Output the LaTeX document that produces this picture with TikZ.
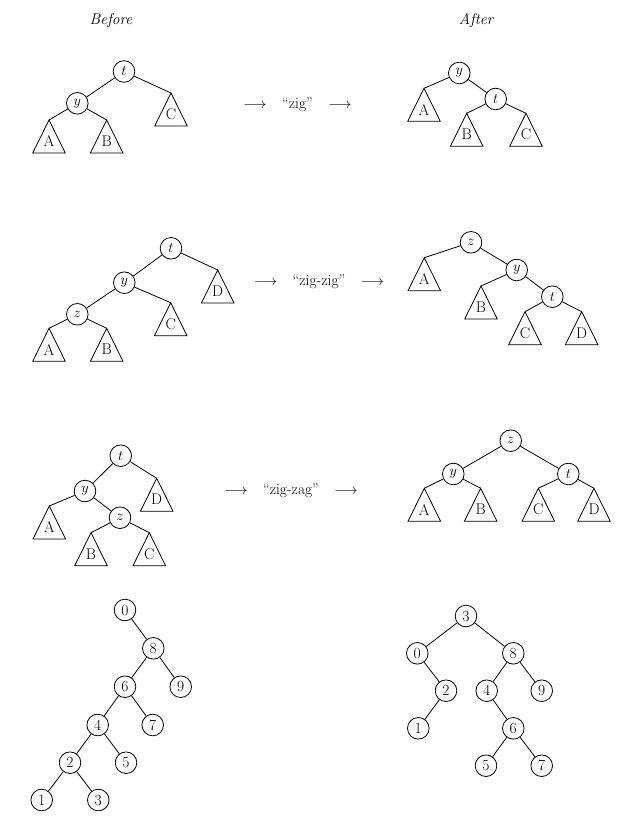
\documentclass[tikz,border=0pt]{standalone}
\usepackage{tikz}
% subtree triangle: name, apex, label
\newcommand{\subtri}[3]{%
  \coordinate (#1) at #2;
  \draw[tri] (#1) -- ++(-16.3,33) -- ++(32.6,0) -- cycle;
  \path (#1) ++(0,21.3) node (#1-lab) {#3};
}
\begin{document}
\begin{tikzpicture}[x=1pt,y=-1pt,
  every node/.style={font=\fontsize{15.5}{18}\selectfont},
  vtx/.style={draw,circle,minimum size=21.6pt,inner sep=0pt,line width=0.8pt},
  link/.style={line width=0.8pt},
  tri/.style={line width=0.8pt,line join=miter}]
\useasboundingbox (0,0) rectangle (637,825);

% column headings
\node (hb) at (111,20.5) {\itshape Before};
\node (ha) at (476,20.5) {\itshape After};

% ---- zig ----
\node[vtx] (a-t) at (124,71.5) {$t$};
\node[vtx] (a-y) at (77.3,103.3) {$y$};
\subtri{a-C}{(171,93)}{C}
\subtri{a-A}{(49,120)}{A}
\subtri{a-B}{(106.7,120)}{B}
\draw[link] (a-t) -- (a-y);
\draw[link] (a-t) -- (a-C);
\draw[link] (a-y) -- (a-A);
\draw[link] (a-y) -- (a-B);

\node (a-op) at (297.5,105) {$\longrightarrow$\quad``zig''\quad$\longrightarrow$};

\node[vtx] (b-y) at (459.3,73) {$y$};
\node[vtx] (b-t) at (495.7,99) {$t$};
\subtri{b-A}{(424,88.3)}{A}
\subtri{b-B}{(466.7,113.3)}{B}
\subtri{b-C}{(526,113.3)}{C}
\draw[link] (b-y) -- (b-A);
\draw[link] (b-y) -- (b-t);
\draw[link] (b-t) -- (b-B);
\draw[link] (b-t) -- (b-C);

% ---- zig-zig ----
\node[vtx] (c-t) at (171,248.3) {$t$};
\node[vtx] (c-y) at (124.3,282.7) {$y$};
\node[vtx] (c-z) at (77.3,314.3) {$z$};
\subtri{c-D}{(217.7,270)}{D}
\subtri{c-C}{(170.7,302.7)}{C}
\subtri{c-A}{(49,328.3)}{A}
\subtri{c-B}{(106.7,328.3)}{B}
\draw[link] (c-t) -- (c-y);
\draw[link] (c-t) -- (c-D);
\draw[link] (c-y) -- (c-z);
\draw[link] (c-y) -- (c-C);
\draw[link] (c-z) -- (c-A);
\draw[link] (c-z) -- (c-B);

\node (c-op) at (319,281.7) {$\longrightarrow$\quad``zig-zig''\quad$\longrightarrow$};

\node[vtx] (d-z) at (471,242.3) {$z$};
\node[vtx] (d-y) at (516.7,270) {$y$};
\node[vtx] (d-t) at (552.3,296.7) {$t$};
\subtri{d-A}{(424.3,257.7)}{A}
\subtri{d-B}{(481,286)}{B}
\subtri{d-C}{(525,311.7)}{C}
\subtri{d-D}{(581.7,311.7)}{D}
\draw[link] (d-z) -- (d-A);
\draw[link] (d-z) -- (d-y);
\draw[link] (d-y) -- (d-B);
\draw[link] (d-y) -- (d-t);
\draw[link] (d-t) -- (d-C);
\draw[link] (d-t) -- (d-D);

% ---- zig-zag ----
\node[vtx] (e-t) at (120.7,455.7) {$t$};
\node[vtx] (e-y) at (85,491) {$y$};
\node[vtx] (e-z) at (120,517.7) {$z$};
\subtri{e-D}{(156.7,478.3)}{D}
\subtri{e-A}{(49.3,506)}{A}
\subtri{e-B}{(91,532.7)}{B}
\subtri{e-C}{(149.3,532.7)}{C}
\draw[link] (e-t) -- (e-y);
\draw[link] (e-t) -- (e-D);
\draw[link] (e-y) -- (e-A);
\draw[link] (e-y) -- (e-z);
\draw[link] (e-z) -- (e-B);
\draw[link] (e-z) -- (e-C);

\node (e-op) at (291,491) {$\longrightarrow$\quad``zig-zag''\quad$\longrightarrow$};

\node[vtx] (f-z) at (510.7,440.7) {$z$};
\node[vtx] (f-y) at (453.3,474) {$y$};
\node[vtx] (f-t) at (568.3,474) {$t$};
\subtri{f-A}{(424.3,488.3)}{A}
\subtri{f-B}{(480.7,488.3)}{B}
\subtri{f-C}{(538.3,488.3)}{C}
\subtri{f-D}{(594,488.3)}{D}
\draw[link] (f-z) -- (f-y);
\draw[link] (f-z) -- (f-t);
\draw[link] (f-y) -- (f-A);
\draw[link] (f-y) -- (f-B);
\draw[link] (f-t) -- (f-C);
\draw[link] (f-t) -- (f-D);

% ---- numbered example, before ----
\node[vtx] (g0) at (125,610) {0};
\node[vtx] (g8) at (153.3,648.3) {8};
\node[vtx] (g6) at (125,686.7) {6};
\node[vtx] (g9) at (180.7,686.7) {9};
\node[vtx] (g4) at (97.7,725) {4};
\node[vtx] (g7) at (152.7,725) {7};
\node[vtx] (g2) at (70,762.7) {2};
\node[vtx] (g5) at (126,762.7) {5};
\node[vtx] (g1) at (41.7,800) {1};
\node[vtx] (g3) at (98.3,800) {3};
\draw[link] (g0) -- (g8);
\draw[link] (g8) -- (g6);
\draw[link] (g8) -- (g9);
\draw[link] (g6) -- (g4);
\draw[link] (g6) -- (g7);
\draw[link] (g4) -- (g2);
\draw[link] (g4) -- (g5);
\draw[link] (g2) -- (g1);
\draw[link] (g2) -- (g3);

% ---- numbered example, after ----
\node[vtx] (h3) at (466,616) {3};
\node[vtx] (h0) at (417.3,653.3) {0};
\node[vtx] (h8) at (513.3,653.3) {8};
\node[vtx] (h2) at (446,690.7) {2};
\node[vtx] (h4) at (486.7,690.7) {4};
\node[vtx] (h9) at (541.7,690.7) {9};
\node[vtx] (h1) at (418.3,728.3) {1};
\node[vtx] (h6) at (513.3,728.3) {6};
\node[vtx] (h5) at (486,765.7) {5};
\node[vtx] (h7) at (541.7,765.7) {7};
\draw[link] (h3) -- (h0);
\draw[link] (h3) -- (h8);
\draw[link] (h0) -- (h2);
\draw[link] (h2) -- (h1);
\draw[link] (h8) -- (h4);
\draw[link] (h8) -- (h9);
\draw[link] (h4) -- (h6);
\draw[link] (h6) -- (h5);
\draw[link] (h6) -- (h7);
\end{tikzpicture}
\end{document}
